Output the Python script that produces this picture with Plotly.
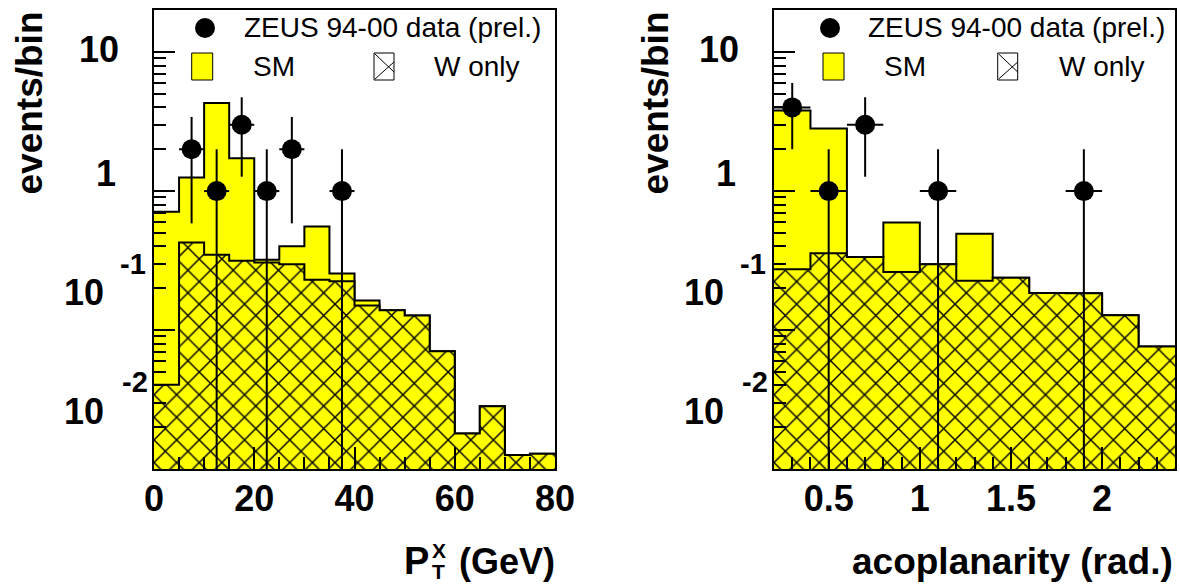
import numpy as np
import plotly.graph_objects as go

W, H = 1180, 584

# ---- P_T^X distribution -------------------------------------------------
pt_edges = np.arange(0, 85, 5)
pt_sm = [0.71, 1.25, 4.3, 1.72, 0.32, 0.40, 0.556, 0.255,
         0.163, 0.139, 0.127, 0.0705, 0.018, 0.0283, 0.0126, 0.0129]
pt_w = [0.0404, 0.427, 0.348, 0.315, 0.306, 0.298, 0.230, 0.224,
        0.150, 0.139, 0.127, 0.0705, 0.018, 0.0283, 0.0126, 0.0129]
pt_data_x = [7.5, 12.5, 17.5, 22.5, 27.5, 37.5]
pt_data_n = [2, 1, 3, 1, 2, 1]

# ---- acoplanarity distribution -----------------------------------------
ac_edges = np.round(np.arange(0.2, 2.41, 0.2), 2)
ac_sm = [3.8, 2.82, 0.336, 0.593, 0.298, 0.494, 0.238, 0.185, 0.184, 0.128, 0.076]
ac_w = [0.274, 0.357, 0.336, 0.262, 0.298, 0.226, 0.238, 0.185, 0.184, 0.128, 0.076]
ac_data_x = [0.3, 0.5, 0.7, 1.1, 1.9]
ac_data_n = [4, 1, 3, 1, 1]

YELLOW = "#ffff00"
BOLD = "Liberation Sans"
FONT = "Liberation Sans"

# panel frames in pixels
L_X0, L_X1 = 154, 555
R_X0, R_X1 = 774, 1175
Y_TOP, Y_BOT = 10, 469


def px(x):
    return x / W


def py(y):
    return 1 - y / H


fig = go.Figure()


def add_panel(edges, sm, wonly, dx, dn, half_width, xa, ya):
    xs = list(edges)
    fig.add_trace(go.Scatter(
        x=xs, y=list(sm) + [sm[-1]], mode="lines", line_shape="hv",
        line=dict(color="black", width=2), fill="tozeroy", fillcolor=YELLOW,
        xaxis=xa, yaxis=ya, showlegend=False, hoverinfo="skip"))
    fig.add_trace(go.Scatter(
        x=xs, y=list(wonly) + [wonly[-1]], mode="lines", line_shape="hv",
        line=dict(color="black", width=2), fill="tozeroy", fillcolor=YELLOW,
        fillpattern=dict(shape="x", size=16, solidity=0.17, fgcolor="black",
                         bgcolor=YELLOW, fillmode="replace"),
        xaxis=xa, yaxis=ya, showlegend=False, hoverinfo="skip"))
    err = np.sqrt(np.array(dn, dtype=float))
    fig.add_trace(go.Scatter(
        x=dx, y=dn, mode="markers",
        marker=dict(color="black", size=20, symbol="circle"),
        error_y=dict(type="data", array=err, arrayminus=err, thickness=2,
                     width=0, color="black"),
        error_x=dict(type="constant", value=half_width, thickness=2,
                     width=0, color="black"),
        xaxis=xa, yaxis=ya, showlegend=False, hoverinfo="skip"))


add_panel(pt_edges, pt_sm, pt_w, pt_data_x, pt_data_n, 2.5, "x", "y")
add_panel(ac_edges, ac_sm, ac_w, ac_data_x, ac_data_n, 0.1, "x2", "y2")

ydom = [py(Y_BOT), py(Y_TOP)]
yrange = [-2, 1.303]

common_x = dict(showline=True, mirror=True, linecolor="black", linewidth=2,
                ticks="inside", ticklen=22, tickwidth=1.5, tickcolor="black",
                showgrid=False, zeroline=False, automargin=False,
                tickfont=dict(family=BOLD, size=36, color="black", weight="bold"))
common_y = dict(type="log", range=yrange, domain=ydom, showline=True, mirror=True,
                linecolor="black", linewidth=2, ticks="inside", ticklen=21,
                tickwidth=1.5, tickcolor="black", dtick=1, showticklabels=False,
                showgrid=False, zeroline=False, automargin=False,
                minor=dict(ticks="inside", ticklen=12, dtick="D1",
                           tickcolor="black", tickwidth=1.5, showgrid=False))

fig.update_layout(
    width=W, height=H, margin=dict(l=0, r=0, t=0, b=0),
    paper_bgcolor="white", plot_bgcolor="white",
    xaxis=dict(domain=[px(L_X0), px(L_X1)], range=[0, 80], tick0=0, dtick=20,
               minor=dict(ticks="inside", ticklen=12, dtick=5, tickcolor="black",
                          tickwidth=1.5, showgrid=False),
               anchor="y", ticklabelstandoff=-3, **common_x),
    yaxis=dict(anchor="x", **common_y),
    xaxis2=dict(domain=[px(R_X0), px(R_X1)], range=[0.2, 2.4], tick0=0, dtick=0.5,
                minor=dict(ticks="inside", ticklen=12, dtick=0.1, tickcolor="black",
                           tickwidth=1.5, showgrid=False),
                anchor="y2", ticklabelstandoff=-3, **common_x),
    yaxis2=dict(anchor="x2", **common_y),
)

ann = []
shapes = []


def text(x, y, s, size, bold=True, xanchor="center", yanchor="middle",
         angle=0, yref="paper", yshift=0):
    ann.append(dict(x=x, y=y, xref="paper", yref=yref, text=s, showarrow=False,
                    xanchor=xanchor, yanchor=yanchor, textangle=angle, yshift=yshift,
                    borderpad=0,
                    font=dict(family=BOLD if bold else FONT, size=size, color="black",
                              weight="bold" if bold else "normal")))


# y tick labels in ROOT style (mantissa and exponent set apart)
for yr, x0 in (("y", L_X0), ("y2", R_X0)):
    text(px(x0 - 34), 1, "10", 36, xanchor="right", yref=yr, yshift=3)
    text(px(x0 - 37), 0, "1", 36, xanchor="right", yref=yr, yshift=18)
    text(px(x0 - 49), -1, "10", 36, xanchor="right", yref=yr, yshift=38)
    text(px(x0 - 35), -1, "-1", 29, xanchor="left", yref=yr, yshift=66)
    text(px(x0 - 49), -2, "10", 36, xanchor="right", yref=yr, yshift=58)
    text(px(x0 - 33), -2, "-2", 29, xanchor="left", yref=yr, yshift=87)

# y axis titles
text(px(29), py(103.5), "events/bin", 37, angle=-90)
text(px(655), py(103.5), "events/bin", 37, angle=-90)

# x axis titles
text(px(430), py(561), "P", 38, xanchor="right")
text(px(431), py(550), "X", 21, xanchor="left")
text(px(431), py(571), "T", 21, xanchor="left")
text(px(556), py(561), "(GeV)", 36, xanchor="right")
text(px(1174), py(561), "acoplanarity (rad.)", 37, xanchor="right")

# legends
for circ_x, zeus_x, box_x, sm_x, hb_x, wo_x in (
        (205, 243, 191.7, 251.7, 374, 433),
        (830, 867, 823, 883, 997.7, 1058)):
    shapes.append(dict(type="circle", xref="paper", yref="paper",
                       x0=px(circ_x - 10), x1=px(circ_x + 10),
                       y0=py(38), y1=py(18), fillcolor="black",
                       line=dict(color="black", width=0)))
    text(px(zeus_x), py(28), "ZEUS 94-00 data (prel.)", 28, bold=False, xanchor="left")
    shapes.append(dict(type="rect", xref="paper", yref="paper",
                       x0=px(box_x), x1=px(box_x + 21), y0=py(80), y1=py(53),
                       fillcolor=YELLOW, line=dict(color="black", width=1)))
    text(px(sm_x), py(67), "SM", 28, bold=False, xanchor="left")
    shapes.append(dict(type="rect", xref="paper", yref="paper",
                       x0=px(hb_x), x1=px(hb_x + 20), y0=py(80), y1=py(53),
                       fillcolor="white", line=dict(color="black", width=1)))
    shapes.append(dict(type="line", xref="paper", yref="paper",
                       x0=px(hb_x + 1), y0=py(54), x1=px(hb_x + 20), y1=py(72),
                       line=dict(color="black", width=1)))
    shapes.append(dict(type="line", xref="paper", yref="paper",
                       x0=px(hb_x + 1), y0=py(79), x1=px(hb_x + 20), y1=py(62),
                       line=dict(color="black", width=1)))
    text(px(wo_x), py(67), "W only", 28, bold=False, xanchor="left")

fig.update_layout(annotations=ann, shapes=shapes)
fig.write_html("out.html")
